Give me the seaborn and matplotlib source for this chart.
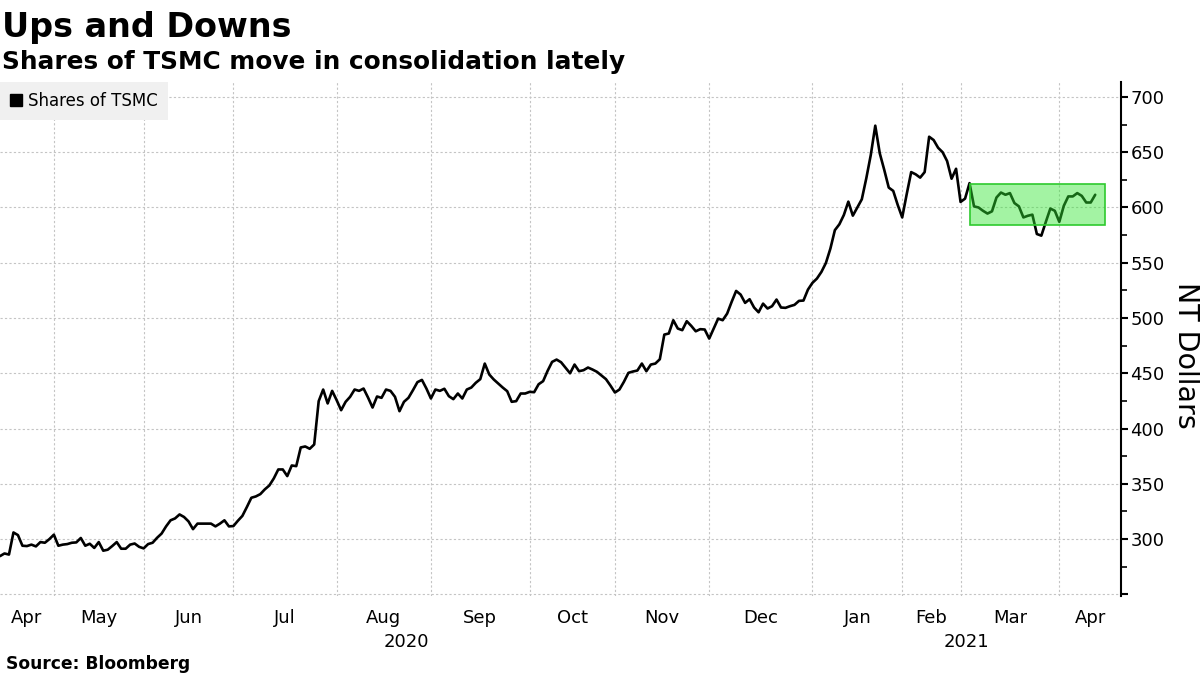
import numpy as np
import pandas as pd
import seaborn as sns
import matplotlib.pyplot as plt
from matplotlib.lines import Line2D
from matplotlib.patches import Rectangle
import matplotlib.transforms as mtransforms

sns.set_style("white")
plt.rcParams['font.family'] = ['DejaVu Sans']
plt.rcParams['text.color'] = 'black'
plt.rcParams['axes.labelcolor'] = 'black'
plt.rcParams['xtick.color'] = 'black'
plt.rcParams['ytick.color'] = 'black'

# TSMC close, one value per trading day (mid-Apr 2020 to mid-Apr 2021)
prices = [
    284.6, 287.0, 286.0, 306.0, 303.6, 294.0, 293.7, 295.0, 293.4, 297.3,
    296.7, 300.0, 304.0, 294.0, 295.0, 295.5, 296.7, 297.0, 301.0, 294.0,
    295.8, 292.0, 297.3, 289.5, 290.4, 293.7, 297.3, 291.3, 291.3, 295.0,
    296.0, 293.0, 291.6, 295.5, 296.7, 301.2, 305.0, 311.5, 317.0, 318.7,
    322.3, 320.0, 316.0, 309.0, 314.0, 314.0, 314.0, 314.0, 311.5, 314.0,
    317.0, 311.5, 311.8, 316.6, 321.0, 329.0, 337.4, 338.6, 340.7, 345.0,
    348.5, 354.9, 363.0, 363.0, 357.0, 366.6, 366.0, 382.9, 383.8, 381.7,
    385.6, 424.8, 435.3, 422.7, 434.1, 425.7, 416.6, 424.2, 428.7, 435.3,
    434.1, 436.2, 428.0, 419.0, 429.0, 427.8, 435.3, 434.1, 428.7, 415.7,
    424.2, 427.8, 434.7, 442.0, 444.0, 436.2, 427.2, 435.3, 434.1, 436.0,
    429.3, 426.6, 431.7, 427.2, 435.3, 437.1, 441.4, 444.7, 458.8, 448.9,
    444.4, 440.7, 437.1, 433.8, 424.2, 424.8, 431.7, 431.7, 433.2, 432.9,
    440.1, 442.9, 452.2, 460.3, 462.4, 460.0, 455.0, 450.0, 457.9, 451.9,
    452.8, 455.2, 453.4, 451.3, 448.0, 444.7, 438.9, 432.6, 435.3, 442.3,
    450.4, 451.6, 452.5, 458.8, 451.9, 457.9, 458.8, 462.7, 485.0, 486.0,
    498.0, 490.5, 489.0, 497.1, 492.9, 488.0, 489.9, 489.6, 481.4, 490.5,
    499.5, 498.0, 504.0, 514.6, 524.5, 521.2, 513.7, 517.0, 509.5, 505.2,
    513.0, 508.6, 510.7, 516.7, 509.5, 509.2, 510.7, 511.9, 515.5, 515.8,
    525.7, 531.8, 535.7, 541.7, 549.8, 562.8, 579.5, 584.8, 593.2, 605.3,
    592.6, 599.9, 607.4, 626.4, 647.5, 674.0, 649.0, 634.0, 618.0, 615.0,
    602.3, 591.0, 612.0, 632.0, 630.0, 627.0, 632.0, 664.0, 661.0, 654.0,
    650.0, 642.0, 626.0, 635.0, 605.0, 608.0, 622.0, 601.0, 600.0, 597.0,
    594.5, 596.5, 609.0, 613.5, 611.5, 613.0, 604.0, 601.0, 591.0, 592.5,
    593.5, 576.0, 574.5, 587.0, 599.0, 597.0, 587.0, 601.5, 610.0, 610.0,
    613.0, 610.5, 604.5, 604.5, 611.5,
]

# trading-day index where each month starts (May 2020 .. Apr 2021)
month_starts = [12, 32, 52, 75, 96, 118, 137, 158, 181, 201, 214, 236]
month_labels = ['Apr', 'May', 'Jun', 'Jul', 'Aug', 'Sep', 'Oct', 'Nov', 'Dec',
                'Jan', 'Feb', 'Mar', 'Apr']
year_labels = ['2020', '2021']
year_starts = [0, 181]

# consolidation box (trading-day index / NT$)
box_start, box_end = 216, 246.2
box_low, box_high = 584, 621

x_end = 249.7
y_min, y_max = 248.5, 713.5

df = pd.DataFrame({'day': np.arange(len(prices)), 'price': prices})

fig = plt.figure(figsize=(12, 6.75), dpi=100)
ax = fig.add_axes([0, 0.117, 0.934, 0.7615])

sns.lineplot(data=df, x='day', y='price', ax=ax, color='black', linewidth=1.9, zorder=3)

ax.add_patch(Rectangle((box_start, box_low), box_end - box_start, box_high - box_low,
                       facecolor=(0.2, 0.9, 0.2, 0.45), edgecolor='#2ec92e',
                       linewidth=1.2, zorder=4))

ax.set_xlim(0, x_end)
ax.set_ylim(y_min, y_max)

# y axis on right
ax.yaxis.tick_right()
ax.yaxis.set_label_position('right')
ax.set_yticks(np.arange(250, 701, 50))
ax.set_yticklabels([''] + [str(v) for v in range(300, 701, 50)])
ax.set_yticks(np.arange(275, 701, 50), minor=True)
ax.tick_params(axis='y', which='major', direction='out', length=5, width=1.5,
               labelsize=13, pad=2)
ax.tick_params(axis='y', which='minor', direction='out', length=4, width=1.2)
ax.set_ylabel('NT Dollars', fontsize=20.5, rotation=270, ha='center', va='center')
ax.yaxis.set_label_coords(1.058, 0.469)

# x axis: gridlines at month starts, labels centred in each month
bounds = [0] + month_starts + [x_end]
centres = [(a + b) / 2 for a, b in zip(bounds[:-1], bounds[1:])]
ax.set_xticks(month_starts, minor=True)
ax.set_xticks(centres)
ax.set_xticklabels(month_labels)
ax.tick_params(axis='x', which='both', length=0, labelsize=13, pad=9)

year_bounds = year_starts + [x_end]
trans = mtransforms.blended_transform_factory(ax.transData, ax.transAxes)
for i, yl in enumerate(year_labels):
    ax.text((year_bounds[i] + year_bounds[i + 1]) / 2, -0.0992, yl, transform=trans,
            ha='center', va='baseline', fontsize=13)

ax.grid(False)
ax.grid(axis='y', which='major', color='#c4c4c4', linestyle=(0, (2, 2)), linewidth=0.8)
ax.grid(axis='x', which='minor', color='#c4c4c4', linestyle=(0, (2, 2)), linewidth=0.8)

for s in ['top', 'left', 'bottom']:
    ax.spines[s].set_visible(False)
ax.spines['right'].set_color('black')
ax.spines['right'].set_linewidth(1.5)
ax.set_xlabel('')

handle = Line2D([], [], marker='s', color='black', linestyle='none', markersize=8)
leg = ax.legend([handle], ['Shares of TSMC'], loc='upper left', bbox_to_anchor=(0, 1),
                borderaxespad=0, frameon=True, fancybox=False, fontsize=12,
                handlelength=0.7, handletextpad=0.4, borderpad=0.6)
leg.get_frame().set_facecolor('#f0f0f0')
leg.get_frame().set_edgecolor('none')
leg.get_frame().set_alpha(1)

fig.text(0.002, 1 - 37.5 / 675, 'Ups and Downs', fontsize=24, weight='bold', va='baseline')
fig.text(0.002, 1 - 68.5 / 675, 'Shares of TSMC move in consolidation lately',
         fontsize=17.8, weight='bold', va='baseline')
fig.text(0.005, 1 - 669 / 675, 'Source: Bloomberg', fontsize=12.3, weight='bold', va='baseline')

fig.savefig('out.png', dpi=100)
